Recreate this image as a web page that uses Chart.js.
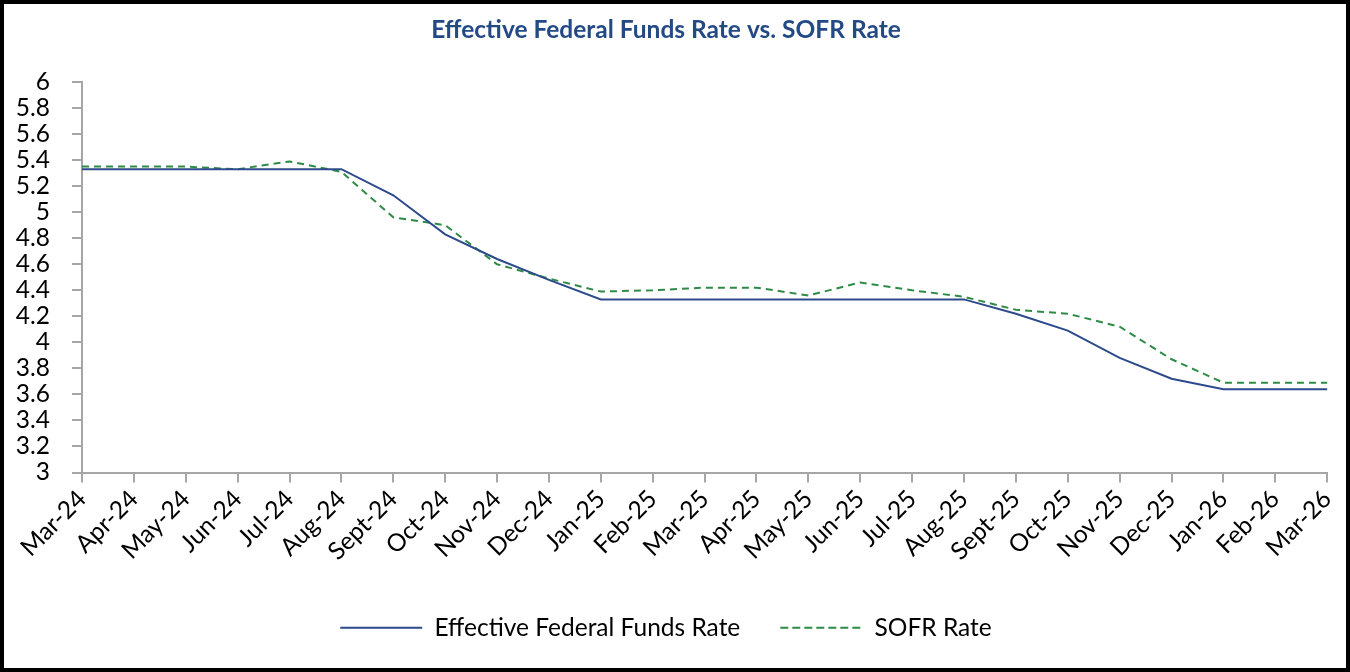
<!DOCTYPE html>
<html>
<head>
<meta charset="utf-8">
<script src="https://cdn.jsdelivr.net/npm/chart.js@4.4.1/dist/chart.umd.min.js"></script>
<style>
  html, body { margin: 0; padding: 0; background: #fff; }
  #wrap { position: relative; width: 1350px; height: 672px; }
  #frame { position: absolute; left: 0; top: 0; width: 1350px; height: 672px; box-sizing: border-box; border: 4px solid #000; pointer-events: none; }
  canvas { position: absolute; left: 0; top: 0; }
</style>
</head>
<body>
<div id="wrap">
  <canvas id="c" width="1350" height="672"></canvas>
  <div id="frame"></div>
</div>
<script>
const categories = ["Mar-24","Apr-24","May-24","Jun-24","Jul-24","Aug-24","Sept-24","Oct-24","Nov-24","Dec-24","Jan-25","Feb-25","Mar-25","Apr-25","May-25","Jun-25","Jul-25","Aug-25","Sept-25","Oct-25","Nov-25","Dec-25","Jan-26","Feb-26","Mar-26"];
const effrValues = [5.33,5.33,5.33,5.33,5.33,5.33,5.13,4.83,4.64,4.48,4.33,4.33,4.33,4.33,4.33,4.33,4.33,4.33,4.22,4.09,3.88,3.72,3.64,3.64,3.64];
const sofrValues = [5.35,5.35,5.35,5.33,5.39,5.31,4.96,4.90,4.60,4.49,4.39,4.40,4.42,4.42,4.36,4.46,4.40,4.35,4.25,4.22,4.12,3.87,3.69,3.69,3.69];
const yTicks = [3,3.2,3.4,3.6,3.8,4,4.2,4.4,4.6,4.8,5,5.2,5.4,5.6,5.8,6];
const seriesNames = ["Effective Federal Funds Rate","SOFR Rate"];
const titleText = "Effective Federal Funds Rate vs. SOFR Rate";

const FONT = "Lato";
const FS = 24.5;
const axisGrey = "#A6A6A6";

new Chart(document.getElementById("c"), {
  type: "line",
  data: {
    labels: categories,
    datasets: [
      { label: seriesNames[0], data: effrValues, borderColor: "#2D4B8C", backgroundColor: "rgba(0,0,0,0)", borderWidth: 2, pointRadius: 0, tension: 0 },
      { label: seriesNames[1], data: sofrValues, borderColor: "#2E8B46", backgroundColor: "rgba(0,0,0,0)", borderWidth: 2, borderDash: [7,5], pointRadius: 0, tension: 0 }
    ]
  },
  options: {
    responsive: false,
    animation: false,
    devicePixelRatio: 1,
    layout: { padding: { left: 0, right: 18, top: 0, bottom: 22 } },
    plugins: {
      title: {
        display: true,
        text: titleText,
        color: "#244A85",
        font: { family: FONT, size: 24.5, weight: "bold" },
        padding: { top: 15, bottom: 37.6 }
      },
      legend: {
        display: true,
        position: "bottom",
        labels: {
          boxWidth: 82,
          boxHeight: 0,
          padding: 40,
          color: "#000",
          font: { family: FONT, size: FS }
        }
      },
      tooltip: { enabled: false }
    },
    scales: {
      x: {
        type: "category",
        offset: false,
        grid: { drawOnChartArea: false, drawTicks: true, tickLength: 10, color: axisGrey, lineWidth: 2 },
        border: { display: true, color: axisGrey, width: 2 },
        ticks: { autoSkip: false, maxRotation: 45, minRotation: 45, padding: 2, color: "#000", font: { family: FONT, size: FS } },
        afterFit: (s) => { s.height = 103; }
      },
      y: {
        min: 3, max: 6,
        afterBuildTicks: (s) => { s.ticks = yTicks.map(v => ({ value: v })); },
        grid: { drawOnChartArea: false, drawTicks: true, tickLength: 10, color: axisGrey, lineWidth: 2 },
        border: { display: true, color: axisGrey, width: 2 },
        ticks: { autoSkip: false, padding: 22, color: "#000", font: { family: FONT, size: FS }, callback: (v) => String(Math.round(v * 10) / 10) },
        afterFit: (s) => { s.width = 82; }
      }
    }
  }
});
</script>
</body>
</html>
